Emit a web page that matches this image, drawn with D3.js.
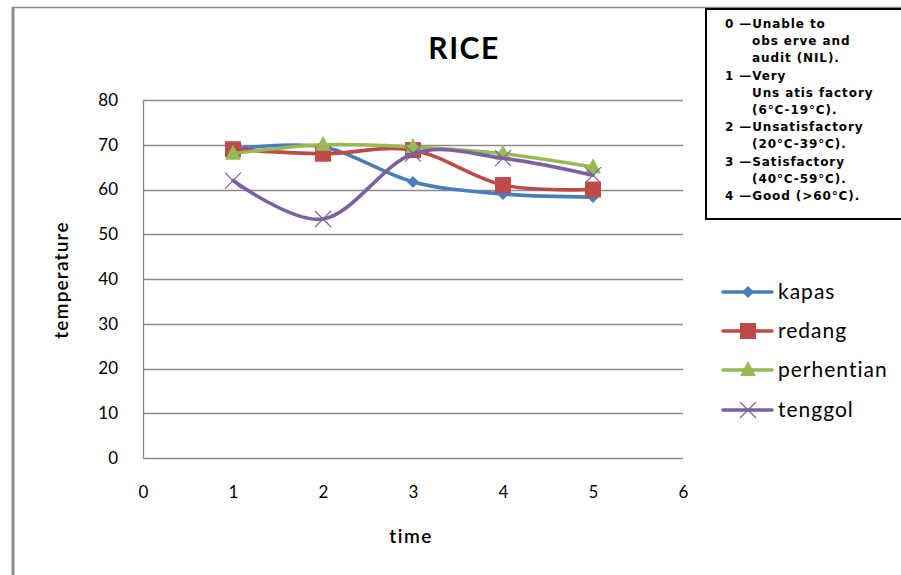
<!DOCTYPE html>
<html>
<head>
<meta charset="utf-8">
<script src="https://cdn.jsdelivr.net/npm/d3@7"></script>
<style>
  html, body { margin: 0; padding: 0; background: #fff; }
  svg { display: block; }
</style>
</head>
<body>
<svg id="chart" width="901" height="575"></svg>
<script>
// Sampling times and readings for each island
const times = [1, 2, 3, 4, 5];
const kapas = [69, 69.5, 61.7, 59, 58.3];
const redang = [69, 68, 68.8, 61, 60];
const perhentian = [68, 70, 69.5, 68, 65];
const tenggol = [62, 53.4, 68, 67, 63.2];

const seriesNames = ["kapas", "redang", "perhentian", "tenggol"];
const seriesColors = ["#4a7ebb", "#be4b48", "#98b954", "#7d60a0"];
const seriesShapes = ["diamond", "square", "triangle", "cross"];

const xTicks = [0, 1, 2, 3, 4, 5, 6];
const yTicks = [0, 10, 20, 30, 40, 50, 60, 70, 80];

const ratingNotes = [
  ["0 \u2014Unable to", 0],
  ["obs erve and", 1],
  ["audit (NIL).", 1],
  ["1 \u2014Very", 0],
  ["Uns atis factory", 1],
  ["(6\u00B0C-19\u00B0C).", 1],
  ["2 \u2014Unsatisfactory", 0],
  ["(20\u00B0C-39\u00B0C).", 1],
  ["3 \u2014Satisfactory", 0],
  ["(40\u00B0C-59\u00B0C).", 1],
  ["4 \u2014Good (>60\u00B0C).", 0]
];

const seriesValues = [kapas, redang, perhentian, tenggol];

const svg = d3.select("#chart");
const font = "Lato, 'Open Sans', sans-serif";

// Outer frame (left and top edges)
svg.append("line").attr("x1", 13).attr("x2", 13).attr("y1", 7).attr("y2", 575)
  .attr("stroke", "#8c8c8c").attr("stroke-width", 3);
svg.append("line").attr("x1", 12).attr("x2", 901).attr("y1", 7.5).attr("y2", 7.5)
  .attr("stroke", "#8c8c8c").attr("stroke-width", 1.5);

const plot = { left: 143, right: 683, top: 100, bottom: 458 };

const x = d3.scaleLinear().domain([0, 6]).range([plot.left, plot.right]);
const y = d3.scaleLinear().domain([0, 80]).range([plot.bottom, plot.top]);

// Plot area: gridlines and frame
const g = svg.append("g");
g.selectAll("line.grid").data(yTicks).join("line")
  .attr("class", "grid")
  .attr("x1", plot.left).attr("x2", plot.right)
  .attr("y1", d => Math.round(y(d)) + 0.5).attr("y2", d => Math.round(y(d)) + 0.5)
  .attr("stroke", "#8c8c8c").attr("stroke-width", 1.3);
g.append("line").attr("x1", plot.left + 0.5).attr("x2", plot.left + 0.5)
  .attr("y1", plot.top).attr("y2", plot.bottom)
  .attr("stroke", "#8c8c8c").attr("stroke-width", 1.3);

// Axes labels via d3 axes (lines hidden, text only)
const yAxis = svg.append("g").attr("transform", `translate(${plot.left},0)`)
  .call(d3.axisLeft(y).tickValues(yTicks).tickFormat(d3.format("d")).tickSize(0).tickPadding(25));
const xAxis = svg.append("g").attr("transform", `translate(0,${plot.bottom})`)
  .call(d3.axisBottom(x).tickValues(xTicks).tickFormat(d3.format("d")).tickSize(0).tickPadding(28));
[yAxis, xAxis].forEach(a => {
  a.select(".domain").remove();
  a.selectAll("text").attr("font-family", font).attr("font-size", 17).attr("fill", "#000");
});

// Title and axis titles
svg.append("text").attr("x", 464).attr("y", 59).attr("text-anchor", "middle")
  .attr("font-family", font).attr("font-size", 30).attr("font-weight", "bold")
  .attr("letter-spacing", 1.5).text("RICE");
svg.append("text").attr("transform", "translate(68,280) rotate(-90)").attr("text-anchor", "middle")
  .attr("font-family", font).attr("font-size", 19).attr("font-weight", 600)
  .attr("letter-spacing", 1.2).text("temperature");
svg.append("text").attr("x", 411).attr("y", 543).attr("text-anchor", "middle")
  .attr("font-family", font).attr("font-size", 19).attr("font-weight", 600)
  .attr("letter-spacing", 1.5).text("time");

// Marker drawing helper
function drawMarker(sel, shape, color) {
  if (shape === "diamond") {
    sel.append("path").attr("d", "M0,-6L6,0L0,6L-6,0Z").attr("fill", color);
  } else if (shape === "square") {
    sel.append("rect").attr("x", -8).attr("y", -8).attr("width", 16).attr("height", 16).attr("fill", color);
  } else if (shape === "triangle") {
    sel.append("path").attr("d", "M0,-9L8,6L-8,6Z").attr("fill", color);
  } else {
    sel.append("path").attr("d", "M-8,-8L8,8M-8,8L8,-8").attr("stroke", color)
      .attr("stroke-width", 1.2).attr("fill", "none");
  }
}

const line = d3.line().x((d, i) => x(times[i])).y(d => y(d)).curve(d3.curveCardinal.tension(0));

seriesValues.forEach((vals, si) => {
  const color = seriesColors[si];
  svg.append("path").datum(vals).attr("d", line)
    .attr("fill", "none").attr("stroke", color).attr("stroke-width", 3.6)
    .attr("stroke-linejoin", "round").attr("stroke-linecap", "round");
  vals.forEach((v, i) => {
    const m = svg.append("g").attr("transform", `translate(${x(times[i])},${y(v)})`);
    drawMarker(m, seriesShapes[si], color);
  });
});

// Legend
const legendRows = [292, 331, 370, 410];
seriesNames.forEach((name, si) => {
  const ly = legendRows[si];
  const color = seriesColors[si];
  svg.append("line").attr("x1", 723).attr("x2", 772).attr("y1", ly).attr("y2", ly)
    .attr("stroke", color).attr("stroke-width", 3.6).attr("stroke-linecap", "round");
  const m = svg.append("g").attr("transform", `translate(748,${ly})`);
  drawMarker(m, seriesShapes[si], color);
  svg.append("text").attr("x", 778).attr("y", ly + 7)
    .attr("font-family", font).attr("font-size", 21).attr("letter-spacing", 1)
    .attr("font-variant-ligatures", "none").attr("fill", "#000").text(name);
});

// Rating notes box
svg.append("rect").attr("x", 706).attr("y", 9).attr("width", 200).attr("height", 210)
  .attr("fill", "#fff").attr("stroke", "#000").attr("stroke-width", 2);
ratingNotes.forEach(([t, indent], i) => {
  svg.append("text").attr("x", indent ? 752 : 725).attr("y", 28 + i * 17.2)
    .attr("font-family", "'DejaVu Sans', sans-serif").attr("font-size", 12)
    .attr("font-weight", "bold").attr("letter-spacing", 0.9).attr("fill", "#000").text(t);
});
</script>
</body>
</html>
